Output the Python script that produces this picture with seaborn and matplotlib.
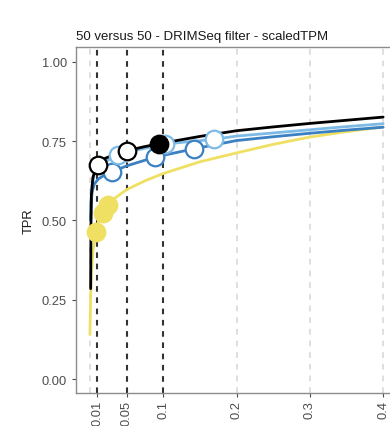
import matplotlib
matplotlib.use("Agg")
import matplotlib.pyplot as plt
import seaborn as sns
import pandas as pd

sns.set_style("white")
plt.rcParams['font.family'] = ['Liberation Sans', 'DejaVu Sans']

# ---- data ----
methods = ["yellow", "darkblue", "lightblue", "black"]
colors = {"yellow": "#EFE063", "darkblue": "#3A80C2", "lightblue": "#7DBBE6", "black": "#000000"}

black_fdr = [0.001, 0.0012, 0.0015, 0.002, 0.004, 0.008, 0.0105, 0.02, 0.035, 0.05, 0.075, 0.094, 0.15, 0.2, 0.25, 0.3, 0.35, 0.4]
black_tpr = [0.285, 0.40, 0.50, 0.58, 0.635, 0.665, 0.675, 0.695, 0.71, 0.72, 0.733, 0.742, 0.765, 0.783, 0.795, 0.806, 0.816, 0.826]

dblue_fdr = [0.001, 0.0015, 0.003, 0.006, 0.012, 0.02, 0.0296, 0.05, 0.089, 0.142, 0.2, 0.25, 0.3, 0.35, 0.4]
dblue_tpr = [0.50, 0.55, 0.59, 0.615, 0.632, 0.643, 0.653, 0.672, 0.70, 0.726, 0.752, 0.764, 0.775, 0.785, 0.794]

lblue_fdr = [0.001, 0.0015, 0.003, 0.006, 0.012, 0.02, 0.0386, 0.06, 0.102, 0.169, 0.2, 0.25, 0.3, 0.35, 0.4]
lblue_tpr = [0.52, 0.57, 0.615, 0.645, 0.668, 0.685, 0.705, 0.72, 0.741, 0.756, 0.766, 0.776, 0.786, 0.796, 0.805]

yellow_fdr = [0.0, 0.0005, 0.001, 0.002, 0.004, 0.0082, 0.012, 0.0173, 0.025, 0.035, 0.05, 0.075, 0.1, 0.15, 0.2, 0.25, 0.3, 0.35, 0.4]
yellow_tpr = [0.14, 0.20, 0.26, 0.33, 0.40, 0.463, 0.50, 0.523, 0.55, 0.572, 0.597, 0.625, 0.648, 0.685, 0.713, 0.74, 0.763, 0.78, 0.795]

pt_method = ["yellow", "yellow", "yellow", "darkblue", "darkblue", "darkblue",
             "lightblue", "lightblue", "lightblue", "black", "black", "black"]
pt_fdr = [0.0082, 0.0173, 0.025, 0.0296, 0.089, 0.142, 0.0386, 0.102, 0.169, 0.0105, 0.05, 0.094]
pt_tpr = [0.463, 0.523, 0.55, 0.653, 0.70, 0.726, 0.705, 0.741, 0.756, 0.675, 0.72, 0.742]
pt_filled = [True, True, True, False, False, False, False, False, False, False, False, True]

thresholds = [0.01, 0.05, 0.1]
grid_x = [0.0, 0.2, 0.3, 0.4]
xticks = [0.01, 0.05, 0.1, 0.2, 0.3, 0.4]
xticklabels = ["0.01", "0.05", "0.1", "0.2", "0.3", "0.4"]
yticks = [0.0, 0.25, 0.5, 0.75, 1.0]
yticklabels = ["0.00", "0.25", "0.50", "0.75", "1.00"]
title = "50 versus 50 - DRIMSeq filter - scaledTPM"

curves = pd.concat([
    pd.DataFrame({"FDR": yellow_fdr, "TPR": yellow_tpr, "method": "yellow"}),
    pd.DataFrame({"FDR": dblue_fdr, "TPR": dblue_tpr, "method": "darkblue"}),
    pd.DataFrame({"FDR": lblue_fdr, "TPR": lblue_tpr, "method": "lightblue"}),
    pd.DataFrame({"FDR": black_fdr, "TPR": black_tpr, "method": "black"}),
], ignore_index=True)
points = pd.DataFrame({"FDR": pt_fdr, "TPR": pt_tpr, "method": pt_method, "filled": pt_filled})

# ---- figure ----
W, H = 390, 427
fig = plt.figure(figsize=(W / 100, H / 100), dpi=100)
left_px, bottom_px, top_px = 76, 394, 48
xmin, xmax = -0.019, 0.43
px_per_unit = 733.0
width_px = (xmax - xmin) * px_per_unit
ax = fig.add_axes([left_px / W, (H - bottom_px) / H, width_px / W, (bottom_px - top_px) / H])

for gx in grid_x:
    ax.axvline(gx, color="#D9D9D9", lw=1.2, ls=(0, (3.5, 3.5)), zorder=0)
for t in thresholds:
    ax.axvline(t, color="#333333", lw=1.5, ls=(0, (2.7, 2.7)), zorder=1)

for m in methods:
    sub = curves[curves.method == m]
    sns.lineplot(data=sub, x="FDR", y="TPR", color=colors[m], lw=2.0,
                 estimator=None, sort=False, ax=ax, zorder=2, legend=False)

for m in methods:
    sub = points[points.method == m]
    for filled, g in sub.groupby("filled"):
        sns.scatterplot(data=g, x="FDR", y="TPR", s=160,
                        color=colors[m] if filled else "white",
                        edgecolor=colors[m], linewidth=1.6, ax=ax, zorder=3, legend=False)

ax.set_xlim(xmin, xmax)
ax.set_ylim(-0.044, 1.047)
ax.set_xticks(xticks)
ax.set_xticklabels(xticklabels, rotation=90)
ax.set_yticks(yticks)
ax.set_yticklabels(yticklabels)
ax.tick_params(axis="both", colors="#4D4D4D", labelsize=9.3, length=3, width=0.8, direction="out",
               bottom=True, left=True)
ax.tick_params(axis="x", pad=2)
for s in ["left", "bottom", "top", "right"]:
    ax.spines[s].set_color("#8C8C8C")
    ax.spines[s].set_linewidth(1.0)
ax.set_xlabel("")
ax.set_ylabel("TPR", fontsize=9.3, color="#1A1A1A", labelpad=5)
ax.set_title(title, loc="left", fontsize=9.5, color="#1A1A1A", pad=6)

fig.savefig("out.png", dpi=100)
